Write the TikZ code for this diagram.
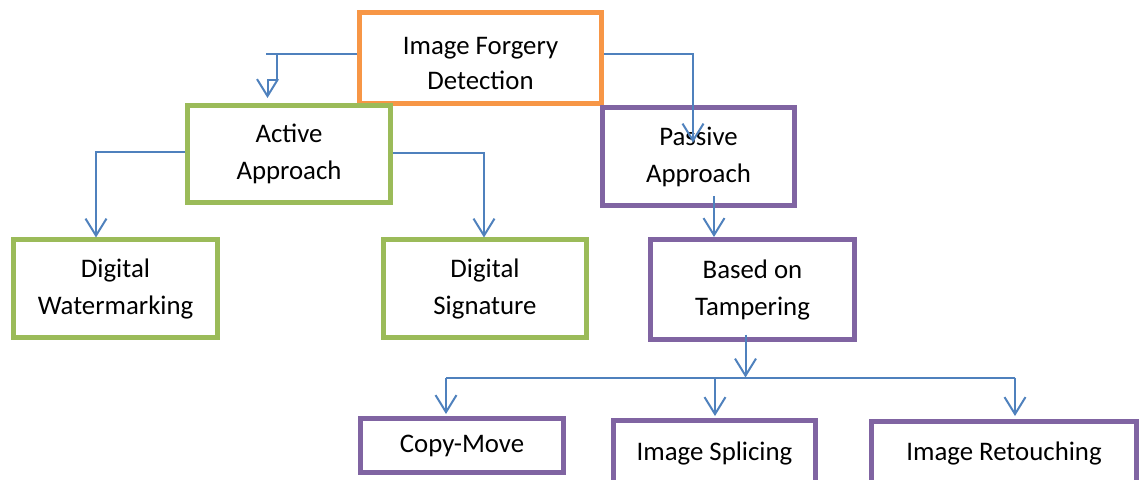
\documentclass[tikz,border=0pt]{standalone}
\usepackage{fontspec}
\setmainfont{Carlito}
\usetikzlibrary{arrows.meta,calc}
\definecolor{ora}{HTML}{F79646}
\definecolor{grn}{HTML}{9BBB59}
\definecolor{pur}{HTML}{8064A2}
\definecolor{blu}{HTML}{4F81BD}
\begin{document}
\begin{tikzpicture}[x=1pt,y=-1pt,
  box/.style={draw, line width=5pt, fill=white, align=center, inner sep=0pt,
    font=\fontsize{26.8}{37}\selectfont, text=black},
  obox/.style={box, draw=ora},
  gbox/.style={box, draw=grn},
  pbox/.style={box, draw=pur},
  conn/.style={draw=blu, line width=2pt},
  arr/.style={-{Straight Barb[length=17pt,width=21pt]}}]
\useasboundingbox (0,0) rectangle (1142,479);
\clip (0,0) rectangle (1142,479);
% boxes
\node[obox, minimum width=242pt, minimum height=91pt] (top) at (480.5,58) {\rule{0pt}{28pt}Image Forgery\\[-2pt]Detection};
\node[gbox, minimum width=203pt, minimum height=97pt] (active) at (289,154) {Active\\Approach};
\node[pbox, minimum width=192pt, minimum height=98pt] (passive) at (698.5,156.5) {Passive\\Approach};
\node[gbox, minimum width=204pt, minimum height=98pt] (water) at (115.5,288.5) {Digital\\Watermarking};
\node[gbox, minimum width=203pt, minimum height=98pt] (sign) at (485,288.5) {Digital\\Signature};
\node[pbox, minimum width=204pt, minimum height=100pt] (based) at (752.5,289.5) {Based on\\Tampering};
\node[pbox, minimum width=203pt, minimum height=54pt] (copy) at (462,445.5) {Copy-Move};
\node[pbox, minimum width=202pt, minimum height=65pt] (splice) at (714.5,453) {Image Splicing};
\node[pbox, minimum width=265pt, minimum height=64pt] (retouch) at (1004,453.5) {Image Retouching};
% connectors
\draw[conn] ([yshift=4pt]top.west) -- ++(-91.5,0);
\draw[conn, arr] ([yshift=4pt]top.west) ++(-80.5,0) -- ++(0,26) -- ++(-9,0) -- ++(0,18);
\draw[conn, arr] ([yshift=4pt]top.east) -| ([xshift=-5.5pt,yshift=-37.5pt]passive.north);
\draw[conn, arr] ([yshift=2pt]active.west) -| ([xshift=-19.5pt,yshift=-0.5pt]water.north);
\draw[conn, arr] ([yshift=1pt]active.east) -| ([xshift=-1pt,yshift=-0.5pt]sign.north);
\coordinate (p1) at ([xshift=15.5pt,yshift=-39.5pt]passive.center);
\draw[conn, arr] (p1) -- (p1 |- based.north);
\coordinate (b1) at ([xshift=-7pt,yshift=7.5pt]based.south);
\coordinate (hub) at ([xshift=-7pt,yshift=-35.5pt]based.south);
\draw[conn, arr] (b1) -- (hub);
\coordinate (c1) at ([xshift=-16pt,yshift=2pt]copy.north);
\coordinate (c2) at ([xshift=0.5pt,yshift=2pt]splice.north);
\coordinate (c3) at ([xshift=11pt,yshift=3pt]retouch.north);
\draw[conn] (hub -| c1) -- (hub -| c3);
\draw[conn, arr] (hub -| c1) -- (c1);
\draw[conn, arr] (hub -| c2) -- (c2);
\draw[conn, arr] (hub -| c3) -- (c3);
\end{tikzpicture}
\end{document}
